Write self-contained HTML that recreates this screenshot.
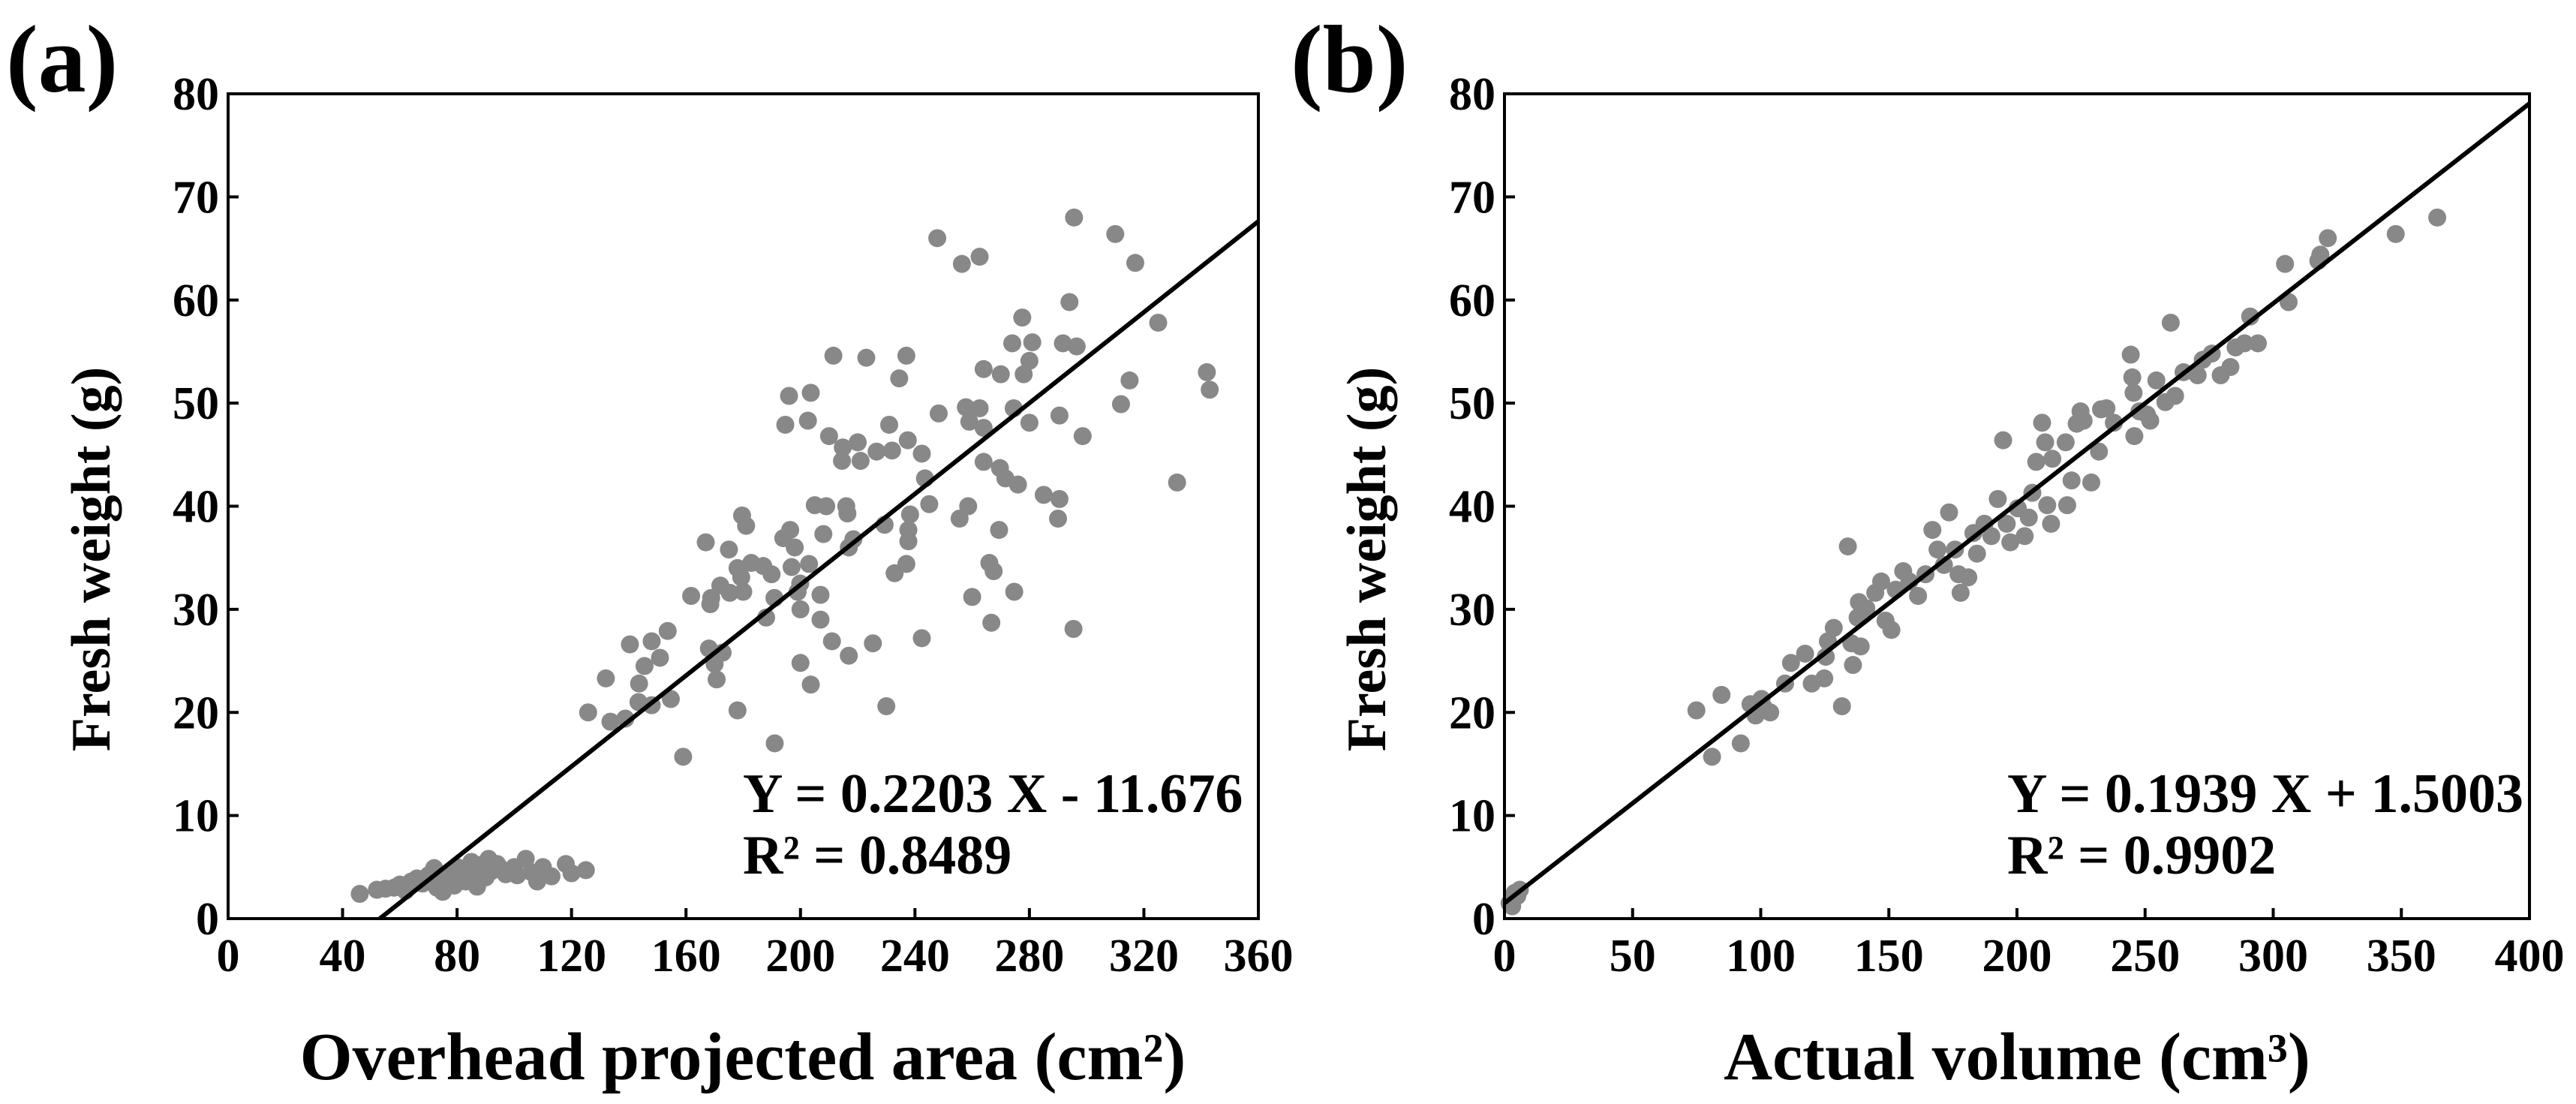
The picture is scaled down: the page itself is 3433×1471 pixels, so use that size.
<!DOCTYPE html>
<html><head><meta charset="utf-8">
<style>
html,body{margin:0;padding:0;background:#fff;}
svg{display:block;}
text{font-family:"Liberation Serif",serif;font-weight:bold;fill:#000;}
</style></head>
<body>
<svg id="chart" width="3433" height="1471" viewBox="0 0 3433 1471" xmlns="http://www.w3.org/2000/svg">
<text x="8" y="122" font-size="128">(a)</text>
<text x="1720" y="122" font-size="128">(b)</text>
<text transform="translate(146,745) rotate(-90)" text-anchor="middle" font-size="74">Fresh weight (g)</text>
<text transform="translate(1846,745) rotate(-90)" text-anchor="middle" font-size="74">Fresh weight (g)</text>
<text x="990" y="1438" text-anchor="middle" font-size="90">Overhead projected area (cm²)</text>
<text x="2688" y="1438" text-anchor="middle" font-size="90">Actual volume (cm³)</text>
</svg>
<script>
// Panel (a) data
const aX = [46,52,55,58,60,62,64,66,68,70,72,73,75,76,78,79,80,82,83,85,86,87,88,90,91,92,94,95,97,100,101,104,106,108,110,113,118,120,125,
247.8,256.4,262.6,295.6,310,317,325,277.5,294,274,281,291.7,296.5,280,264,270,278,342,343,315,312,290.5,298.6,331.6,285,290.5,290,269.7,271.6,276,274.5,280,257.8,262.6,259,264,264,255.6,258.6,260,269.4,266,267.5,266.7,274.7,295.4,248.3,242.4,243.5,245,237,234.5,231,232,237.5,226.6,220,221,214.5,214.8,223,211.5,210,196,203.6,202.6,194.7,205,209,216,216.4,229.4,238.3,237.7,237.7,237,232.9,242.4,225.3,230,216.9,211,207,207,208,216.9,218.5,196.4,198,194,196.9,203,199.9,199,200,200,203.6,191,188,190.9,189.9,187,182.8,178,179.3,180,175.3,172,168.8,168.5,179.6,181,175,166.9,161.8,168,172.8,170,170.7,178,159,153.6,150.9,148,145.5,143.6,140.4,143.4,148,154.7,138.8,133.6,132,125.8];
const aY = [2.4,2.8,2.9,3.0,3.3,2.7,3.6,3.9,3.4,4.2,4.9,3.0,2.6,3.8,4.5,3.2,5.0,4.2,3.6,5.5,4.7,3.1,5.2,4.0,5.8,4.6,5.3,4.9,4.3,5.0,4.2,5.8,4.5,3.6,5.0,4.1,5.3,4.4,4.7,
66.0,63.5,64.2,68.0,66.4,63.6,57.8,58.3,59.8,55.8,55.9,55.8,55.5,54.1,53.3,52.8,52.8,53.0,51.3,52.2,49.9,48.8,46.8,42.3,41.1,40.7,38.8,43.7,42.7,42.1,49.5,48.1,49.6,49.5,48.2,47.6,44.3,38.8,40.0,31.2,37.7,34.5,33.7,28.7,31.7,28.1,49.0,45.1,42.7,40.2,54.6,52.4,47.9,45.4,46.4,45.3,46.2,44.4,44.4,45.7,54.4,54.6,46.8,50.7,51.0,48.3,47.9,40.1,40.0,40.0,39.3,38.2,39.2,37.7,36.6,34.4,33.5,27.2,26.7,20.6,25.5,26.9,29.0,31.4,37.3,36.0,36.8,37.7,36.0,36.9,34.1,34.4,32.5,31.7,30.0,24.8,22.7,17.0,29.2,31.1,33.4,34.2,34.5,34.0,33.1,31.7,31.6,32.3,31.1,30.5,39.1,38.1,35.8,36.5,31.3,26.2,25.8,24.7,23.2,20.2,15.7,27.9,25.3,26.9,24.5,22.8,26.6,21.0,20.7,21.3,19.4,19.1,23.3,20.0];
const aXTicks = [0,40,80,120,160,200,240,280,320,360];
const aYTicks = [0,10,20,30,40,50,60,70,80];
const aSlope = 0.2203, aIntercept = -11.676;
const aEq = ["Y = 0.2203 X - 11.676","R² = 0.8489"];

// Panel (b) data
const bX = [2,3,4,5,3,6,74.9,84.7,81,92.2,96,98,100.3,101.4,103.7,109.5,111.8,117.3,119.9,124.8,125.4,126.2,128.5,131.7,134,135.4,136,137.8,138.3,139,141.2,144.7,147,148.7,151,152.7,155.6,158,161.4,164.3,167,169,171.5,173.5,175.8,177.2,178,181,183,184.4,187.3,190,192.5,194.6,196,197.4,200.3,203,204.6,206,207.5,209.8,211,211.8,213.3,213.8,219.6,219,221.3,223.3,224.8,226,229,232,232.8,234.9,237.8,244.4,245,245.5,245.8,247.8,250.7,252,254.4,257.9,260,261.7,265,270.5,272.5,276,279.5,283.3,285.3,288.8,291,294,304.6,306,317.6,318.4,321.3,347.8,364];
const bY = [1.5,2.0,2.5,2.2,1.2,2.8,20.2,21.7,15.7,17.0,20.8,19.7,21.3,20.4,20.0,22.8,24.8,25.7,22.8,23.3,25.4,26.9,28.2,20.6,36.1,26.7,24.6,29.2,30.7,26.4,30.1,31.6,32.7,28.9,28.0,31.9,33.7,32.7,31.3,33.4,37.7,35.8,34.3,39.4,35.8,33.4,31.6,33.1,37.4,35.4,38.3,37.1,40.7,46.4,38.3,36.5,39.8,37.1,38.9,41.3,44.3,48.1,46.2,40.1,38.3,44.6,40.1,46.2,42.5,48.0,49.2,48.3,42.3,45.3,49.4,49.5,48.1,54.7,52.5,51.0,46.8,49.2,48.9,48.3,52.2,50.1,57.8,50.7,53.0,52.7,54.2,54.8,52.7,53.5,55.4,55.8,58.4,55.8,63.5,59.8,63.8,64.4,66.0,66.4,68.0];
const bXTicks = [0,50,100,150,200,250,300,350,400];
const bYTicks = [0,10,20,30,40,50,60,70,80];
const bSlope = 0.1939, bIntercept = 1.5003;
const bEq = ["Y = 0.1939 X + 1.5003","R² = 0.9902"];

const NS = "http://www.w3.org/2000/svg";
const svg = document.getElementById("chart");
function mk(tag, attrs, parent){
  const e = document.createElementNS(NS, tag);
  for (const k in attrs) e.setAttribute(k, attrs[k]);
  (parent||svg).appendChild(e);
  return e;
}
function panel(id, L, R, T, B, xmax, xs, ys, xt, yt, m, c, eq, eqX){
  const g = mk("g", {});
  
  
  const sx = v => L + v/xmax*(R-L);
  const sy = v => B - v/80*(B-T);
  for (let i=0;i<xs.length;i++){
    const d = mk("circle", {cx:sx(xs[i]), cy:sy(ys[i]), r:12, fill:"#888888"}, g);
    
    
  }
  let x0 = 0; if (c < 0) x0 = -c/m;
  const ln = mk("line", {x1:sx(x0), y1:sy(m*x0+c), x2:sx(xmax), y2:sy(m*xmax+c), stroke:"#000", "stroke-width":6}, g);
  
  
  const fr = mk("rect", {x:L, y:T, width:R-L, height:B-T, fill:"none", stroke:"#000", "stroke-width":4}, g);
  
  
  xt.forEach(v => {
    mk("line", {x1:sx(v), y1:B, x2:sx(v), y2:B-14, stroke:"#000","stroke-width":4}, g);
    const t = mk("text", {x:sx(v), y:B+70, "text-anchor":"middle", "font-size":62}, g);
    t.textContent = v;
    
    
  });
  yt.forEach(v => {
    mk("line", {x1:L, y1:sy(v), x2:L+14, y2:sy(v), stroke:"#000","stroke-width":4}, g);
    const t = mk("text", {x:L-12, y:sy(v)+21, "text-anchor":"end", "font-size":62}, g);
    t.textContent = v;
    
    
  });
  eq.forEach((s,i) => {
    const t = mk("text", {x:eqX, y:1082 + i*82, "font-size":74}, g);
    t.textContent = s;
    
    
  });
}
panel("a", 304, 1677, 125, 1224, 360, aX, aY, aXTicks, aYTicks, aSlope, aIntercept, aEq, 990);
panel("b", 2005, 3371, 125, 1224, 400, bX, bY, bXTicks, bYTicks, bSlope, bIntercept, bEq, 2675);
</script>
</body></html>
